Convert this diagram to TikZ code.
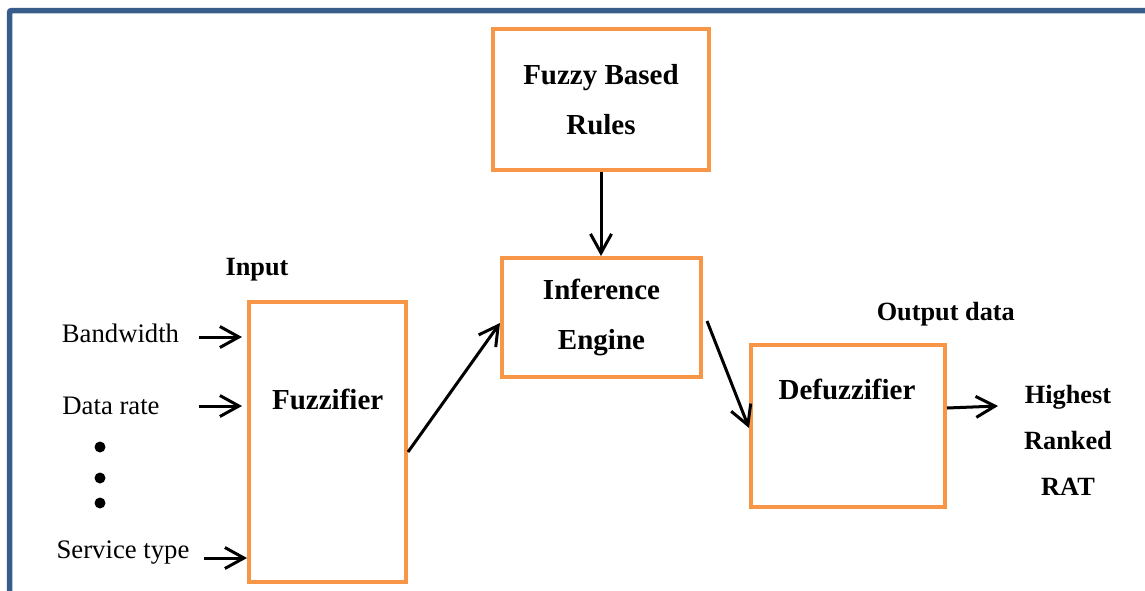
\documentclass[tikz,border=0pt]{standalone}
\usepackage{fontspec}
\setmainfont{Liberation Serif}
\usetikzlibrary{arrows.meta}
\definecolor{frameblue}{RGB}{56,93,138}
\definecolor{boxorange}{RGB}{247,150,70}

\begin{document}
\begin{tikzpicture}[x=1pt,y=-1pt,
  box/.style={draw=boxorange, line width=4pt, inner sep=0pt},
  plain/.style={font=\fontsize{26.7}{27}\selectfont, inner sep=0pt},
  boxtext/.style={font=\fontsize{29}{50}\selectfont\bfseries, inner sep=0pt, align=center},
  tag/.style={font=\fontsize{26.3}{46}\selectfont\bfseries, inner sep=0pt, align=center},
  flow/.style={-{Straight Barb[length=19pt,width=21pt]}, line width=3pt},
  dot/.style={circle, fill=black, inner sep=0pt, minimum size=11pt},
]
\useasboundingbox (0,0) rectangle (1145,590);

% outer frame (only its top and left sides are in view)
\begin{scope}
  \clip (0,0) rectangle (1145,590);
  \draw[frameblue, line width=5.5pt, rounded corners=2pt]
    (9.5,620) -- (9.5,10.5) -- (1180,10.5);
\end{scope}

% processing blocks
\node[box, boxtext, minimum width=216pt, minimum height=141pt] (fbr) at (601,99.5) {Fuzzy Based\\Rules};
\node[box, boxtext, minimum width=199pt, minimum height=119pt] (ie) at (601.5,317.5) {Inference\\Engine};
\node[box, minimum width=157pt, minimum height=280pt] (fz) at (327.5,442) {};
\node[boxtext, anchor=base] (fzt) at (327.7,409) {Fuzzifier};
\node[box, minimum width=194pt, minimum height=162pt] (df) at (848,426) {};
\node[boxtext, anchor=base] (dft) at (847,399) {Defuzzifier};

% headings
\node[tag, anchor=base] (inlbl) at (257,275) {Input};
\node[tag, anchor=base] (outlbl) at (945.8,320) {Output data};
\node[tag] (rat) at (1068,440) {Highest\\Ranked\\RAT};

% inputs
\node[plain, anchor=base] (bw) at (120.5,342) {Bandwidth};
\node[plain, anchor=base] (dr) at (111,414) {Data rate};
\node[plain, anchor=base] (st) at (123,558) {Service type};
\node[dot] (d1) at (100,447) {};
\node[dot] (d2) at (100,478) {};
\node[dot] (d3) at (100,503) {};

\coordinate (bwa) at (199,337);
\coordinate (dra) at (199,406);
\coordinate (sta) at (204,558);
\coordinate (outtip) at (998,406);

% connectors
\draw[flow, shorten >=5pt] (bwa) -- (bwa -| fz.west);
\draw[flow, shorten >=5pt] (dra) -- (dra -| fz.west);
\draw[flow] (sta) -- (sta -| fz.west);
\draw[flow] (fbr.south) -- (fbr.south |- ie.north);
\draw[flow] ([yshift=-10pt]fz.east) -- ([yshift=-5.5pt]ie.west);
\draw[flow] ([xshift=4pt,yshift=-3.5pt]ie.east) -- ([yshift=-2pt]df.west);
\draw[flow] ([yshift=18pt]df.east) -- (outtip);
\end{tikzpicture}
\end{document}
